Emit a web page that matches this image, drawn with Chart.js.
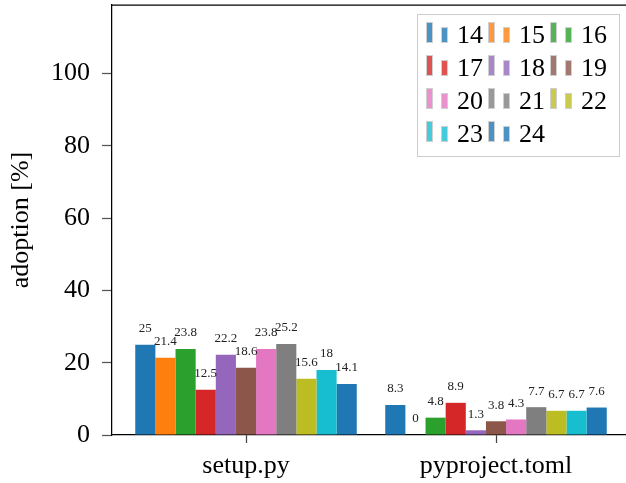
<!DOCTYPE html>
<html><head><meta charset="utf-8">
<script src="https://cdn.jsdelivr.net/npm/chart.js@4"></script>
<style>html,body{margin:0;padding:0;background:#fff;overflow:hidden}canvas{display:block}</style>
</head><body>
<canvas id="c" width="626" height="483"></canvas>
<script>
const categories = ['setup.py', 'pyproject.toml'];
const seriesNames = ['14', '15', '16', '17', '18', '19', '20', '21', '22', '23', '24'];
const setupValues = [25, 21.4, 23.8, 12.5, 22.2, 18.6, 23.8, 25.2, 15.6, 18, 14.1];
const pyprojectValues = [8.3, 0, 4.8, 8.9, 1.3, 3.8, 4.3, 7.7, 6.7, 6.7, 7.6];
const yTicks = [0, 20, 40, 60, 80, 100];
const colors = ['#1f77b4', '#ff7f0e', '#2ca02c', '#d62728', '#9467bd', '#8c564b', '#e377c2', '#7f7f7f', '#bcbd22', '#17becf', '#1f77b4'];

const FONT = '"Liberation Serif", "Times New Roman", serif';

const datasets = seriesNames.map((name, i) => ({
  label: name,
  data: [{x: 0, y: setupValues[i]}, {x: 1, y: pyprojectValues[i]}],
  backgroundColor: colors[i],
  borderWidth: 0,
  barPercentage: 1,
  categoryPercentage: 0.886
}));

const topSpine = {
  id: 'topSpine',
  afterDraw(chart) {
    const ctx = chart.ctx, ca = chart.chartArea;
    ctx.save();
    ctx.strokeStyle = '#000';
    ctx.lineWidth = 1.25;
    ctx.beginPath();
    ctx.moveTo(ca.left, ca.top);
    ctx.lineTo(ca.right, ca.top);
    ctx.stroke();
    ctx.restore();
  }
};

const valueLabels = {
  id: 'valueLabels',
  afterDatasetsDraw(chart) {
    const ctx = chart.ctx;
    ctx.save();
    ctx.font = '13px ' + FONT;
    ctx.fillStyle = '#222';
    ctx.textAlign = 'center';
    ctx.textBaseline = 'middle';
    chart.data.datasets.forEach((ds, di) => {
      const meta = chart.getDatasetMeta(di);
      meta.data.forEach((el, j) => {
        ctx.fillText(String(ds.data[j].y), el.x, el.y - 16);
      });
    });
    ctx.restore();
  }
};

const boxLegend = {
  id: 'boxLegend',
  afterDraw(chart) {
    const ctx = chart.ctx, ca = chart.chartArea;
    const bx = ca.right - 209, by = ca.top + 9, bw = 202, bh = 142;
    ctx.save();
    ctx.fillStyle = 'rgba(255,255,255,0.85)';
    ctx.fillRect(bx, by, bw, bh);
    ctx.strokeStyle = '#cccccc';
    ctx.lineWidth = 1;
    ctx.strokeRect(bx + 0.5, by + 0.5, bw, bh);
    chart.data.datasets.forEach((ds, i) => {
      const col = i % 3, row = Math.floor(i / 3);
      const x0 = bx + 9 + col * 62;
      const base = by + 29 + row * 33;
      ctx.globalAlpha = 0.8;
      ctx.fillStyle = ds.backgroundColor;
      ctx.fillRect(x0, base - 21, 7, 21);
      ctx.fillRect(x0 + 15, base - 16, 7, 16);
      ctx.globalAlpha = 1;
      ctx.strokeStyle = '#cfcfcf';
      ctx.lineWidth = 1;
      ctx.strokeRect(x0 + 0.5, base - 20.5, 6, 20);
      ctx.strokeRect(x0 + 15.5, base - 15.5, 6, 15);
      ctx.fillStyle = '#000';
      ctx.font = '26px ' + FONT;
      ctx.textAlign = 'left';
      ctx.textBaseline = 'alphabetic';
      ctx.fillText(ds.label, x0 + 31, base);
    });
    ctx.restore();
  }
};

new Chart(document.getElementById('c'), {
  type: 'bar',
  data: {datasets},
  options: {
    responsive: false,
    animation: false,
    devicePixelRatio: 1,
    layout: {padding: {top: 5, right: 0, left: 0, bottom: 0}},
    plugins: {legend: {display: false}, tooltip: {enabled: false}},
    scales: {
      x: {
        type: 'linear',
        min: -0.536,
        max: 1.52,
        offset: false,
        grid: {display: true, offset: false, drawOnChartArea: false, drawTicks: true, tickLength: 8, tickColor: '#444', tickWidth: 1.25},
        border: {display: true, color: '#000', width: 1.25},
        ticks: {
          color: '#000',
          font: {family: FONT, size: 26},
          padding: 8,
          maxRotation: 0,
          autoSkip: false,
          callback: (v) => categories[v] !== undefined ? categories[v] : ''
        },
        afterBuildTicks: (s) => { s.ticks = categories.map((c, i) => ({value: i})); },
        afterFit: (s) => { s.height = 48; s.paddingLeft = 0; s.paddingRight = 0; }
      },
      y: {
        type: 'linear',
        min: 0,
        max: 119,
        grid: {display: true, drawOnChartArea: false, drawTicks: true, tickLength: 10, tickColor: '#555', tickWidth: 1.25},
        border: {display: true, color: '#000', width: 1.25},
        ticks: {color: '#000', font: {family: FONT, size: 26}, padding: 12},
        afterBuildTicks: (s) => { s.ticks = yTicks.map(v => ({value: v})); },
        afterFit: (s) => { s.width = 112; s.paddingTop = 0; s.paddingBottom = 0; },
        title: {display: true, text: 'adoption [%]', color: '#000', font: {family: FONT, size: 26}, padding: {top: 6, bottom: 0}}
      }
    }
  },
  plugins: [topSpine, valueLabels, boxLegend]
});
</script>
</body></html>
